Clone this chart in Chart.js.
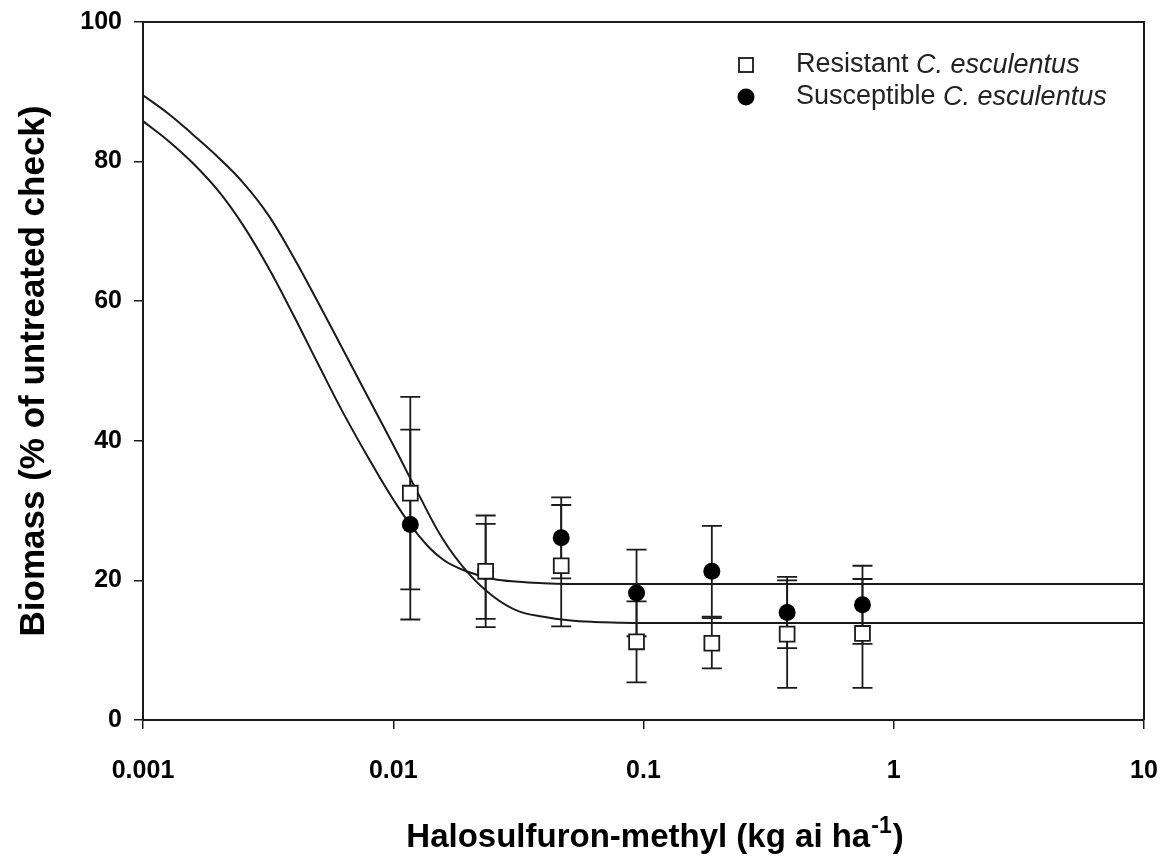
<!DOCTYPE html>
<html>
<head>
<meta charset="utf-8">
<script src="https://cdn.jsdelivr.net/npm/chart.js@4.4.1/dist/chart.umd.min.js"></script>
<style>
  body { margin: 0; background: #fff; }
  canvas { display: block; }
</style>
</head>
<body>
<canvas id="doseChart" width="1161" height="858"></canvas>
<script>
var doses = [0.0117, 0.0234, 0.0469, 0.0938, 0.1875, 0.375, 0.75];
var resistantMean = [32.5, 21.3, 22.1, 11.2, 11.0, 12.3, 12.4];
var resistantSE = [13.8, 8.0, 8.7, 5.8, 3.6, 7.7, 7.8];
var susceptibleMean = [28.0, 21.3, 26.1, 18.2, 21.3, 15.4, 16.5];
var susceptibleSE = [13.6, 6.8, 5.8, 6.2, 6.5, 5.1, 5.6];

// fitted curves, every tenth of a decade
var curveDose = [0.001, 0.00126, 0.00158, 0.002, 0.00251, 0.00316, 0.00398, 0.00501, 0.00631, 0.00794,
                 0.01, 0.0126, 0.0158, 0.02, 0.0251, 0.0316, 0.0398, 0.0501, 0.0631, 0.0794, 0.1, 1, 10];
var resistantFit = [89.5, 86.9, 83.9, 80.6, 77.0, 72.4, 66.4, 59.8, 53.0, 46.2,
                    39.4, 32.4, 25.9, 21.0, 17.7, 15.6, 14.8, 14.3, 14.05, 13.95, 13.9, 13.9, 13.9];
var susceptibleFit = [85.8, 83.0, 79.8, 75.8, 70.9, 64.9, 58.1, 51.0, 44.0, 37.6,
                      31.6, 26.5, 23.0, 21.2, 20.2, 19.8, 19.6, 19.5, 19.5, 19.5, 19.5, 19.5, 19.5];

var xTicks = [0.001, 0.01, 0.1, 1, 10];
var xTickLabels = ['0.001', '0.01', '0.1', '1', '10'];
var yTicks = [0, 20, 40, 60, 80, 100];

var FONT = '"Liberation Sans", Arial, sans-serif';
var INK = '#1a1a1a';

function toPoints(xs, ys) {
    var pts = [];
    for (var i = 0; i < xs.length; i++) {
        pts.push({ x: xs[i], y: ys[i] });
    }
    return pts;
}

// error bars behind the markers
var errorBars = {
    id: 'errorBars',
    beforeDatasetsDraw: function(chart) {
        var ctx = chart.ctx;
        var xs = chart.scales.x, ys = chart.scales.y;
        var sets = [[susceptibleMean, susceptibleSE], [resistantMean, resistantSE]];
        ctx.save();
        ctx.strokeStyle = INK;
        ctx.lineWidth = 1.8;
        sets.forEach(function(s) {
            for (var i = 0; i < doses.length; i++) {
                var px = xs.getPixelForValue(doses[i]);
                var top = ys.getPixelForValue(s[0][i] + s[1][i]);
                var bot = ys.getPixelForValue(s[0][i] - s[1][i]);
                ctx.beginPath();
                ctx.moveTo(px, top); ctx.lineTo(px, bot);
                ctx.moveTo(px - 10, top); ctx.lineTo(px + 10, top);
                ctx.moveTo(px - 10, bot); ctx.lineTo(px + 10, bot);
                ctx.stroke();
            }
        });
        ctx.restore();
    }
};

// top/right frame, x title with superscript, legend with italics
var decorations = {
    id: 'decorations',
    afterDraw: function(chart) {
        var ctx = chart.ctx;
        var a = chart.chartArea;
        ctx.save();
        ctx.strokeStyle = INK;
        ctx.lineWidth = 2;
        ctx.beginPath();
        ctx.moveTo(a.left, a.top);
        ctx.lineTo(a.right, a.top);
        ctx.lineTo(a.right, a.bottom);
        ctx.stroke();

        // x axis title
        ctx.fillStyle = '#000';
        ctx.textBaseline = 'alphabetic';
        var main = 'Halosulfuron-methyl (kg ai ha';
        var sup = '-1';
        var close = ')';
        ctx.font = 'bold 33px ' + FONT;
        var w1 = ctx.measureText(main).width;
        var w3 = ctx.measureText(close).width;
        ctx.font = 'bold 23px ' + FONT;
        var w2 = ctx.measureText(sup).width;
        var startX = 654 - (w1 + w2 + w3) / 2;
        var base = 847;
        ctx.font = 'bold 33px ' + FONT;
        ctx.textAlign = 'left';
        ctx.fillText(main, startX, base);
        ctx.font = 'bold 23px ' + FONT;
        ctx.fillText(sup, startX + w1 + 1, base - 14);
        ctx.font = 'bold 33px ' + FONT;
        ctx.fillText(close, startX + w1 + w2 + 2, base);

        // legend
        var rows = [
            { y: 65, name: 'Resistant ', style: 'rect' },
            { y: 97, name: 'Susceptible ', style: 'circle' }
        ];
        var textX = 796;
        rows.forEach(function(r) {
            if (r.style === 'rect') {
                ctx.fillStyle = '#fff';
                ctx.strokeStyle = INK;
                ctx.lineWidth = 1.8;
                ctx.fillRect(739, r.y - 7, 14, 14);
                ctx.strokeRect(739, r.y - 7, 14, 14);
            } else {
                ctx.fillStyle = '#000';
                ctx.beginPath();
                ctx.arc(746, r.y, 8.5, 0, Math.PI * 2);
                ctx.fill();
            }
            ctx.fillStyle = '#222';
            ctx.textBaseline = 'middle';
            ctx.font = '27px ' + FONT;
            ctx.fillText(r.name, textX, r.y);
            var w = ctx.measureText(r.name).width;
            ctx.font = 'italic 27px ' + FONT;
            ctx.fillText('C. esculentus', textX + w, r.y);
        });
        ctx.restore();
    }
};

var ctx = document.getElementById('doseChart').getContext('2d');

var chart = new Chart(ctx, {
    type: 'scatter',
    data: {
        datasets: [
            {
                label: 'Resistant C. esculentus',
                data: toPoints(doses, resistantMean),
                pointStyle: 'rect',
                pointRadius: 10.5,
                pointBackgroundColor: '#fff',
                pointBorderColor: INK,
                pointBorderWidth: 1.8,
                showLine: false
            },
            {
                label: 'Susceptible C. esculentus',
                data: toPoints(doses, susceptibleMean),
                pointStyle: 'circle',
                pointRadius: 8.5,
                pointBackgroundColor: '#000',
                pointBorderColor: '#000',
                pointBorderWidth: 0,
                showLine: false
            },
            {
                label: 'Resistant fit',
                data: toPoints(curveDose, resistantFit),
                showLine: true,
                pointRadius: 0,
                borderColor: INK,
                borderWidth: 2,
                tension: 0.4,
                fill: false
            },
            {
                label: 'Susceptible fit',
                data: toPoints(curveDose, susceptibleFit),
                showLine: true,
                pointRadius: 0,
                borderColor: INK,
                borderWidth: 2,
                tension: 0.4,
                fill: false
            }
        ]
    },
    options: {
        responsive: false,
        animation: false,
        devicePixelRatio: 1,
        layout: { padding: { top: 22, right: 17, left: 0, bottom: 0 } },
        plugins: {
            legend: { display: false },
            tooltip: { enabled: false }
        },
        scales: {
            x: {
                type: 'logarithmic',
                position: 'bottom',
                min: 0.001,
                max: 10,
                afterBuildTicks: function(axis) {
                    axis.ticks = xTicks.map(function(v) { return { value: v }; });
                },
                afterFit: function(axis) {
                    axis.height = 138;
                    axis.paddingLeft = 0;
                    axis.paddingRight = 0;
                },
                ticks: {
                    autoSkip: false,
                    maxRotation: 0,
                    color: '#000',
                    padding: 27,
                    font: { family: FONT, size: 25, weight: 'bold' },
                    callback: function(value) {
                        var i = xTicks.indexOf(value);
                        return i >= 0 ? xTickLabels[i] : '';
                    }
                },
                grid: { drawOnChartArea: false, drawTicks: true, tickLength: 9, color: INK, lineWidth: 1.5 },
                border: { display: true, color: INK, width: 2 }
            },
            y: {
                min: 0,
                max: 100,
                afterBuildTicks: function(axis) {
                    axis.ticks = yTicks.map(function(v) { return { value: v }; });
                },
                afterFit: function(axis) {
                    axis.width = 143;
                    axis.paddingTop = 0;
                    axis.paddingBottom = 0;
                },
                ticks: {
                    color: '#000',
                    padding: 12,
                    font: { family: FONT, size: 25, weight: 'bold' }
                },
                grid: { drawOnChartArea: false, drawTicks: true, tickLength: 9, color: INK, lineWidth: 1.5 },
                border: { display: true, color: INK, width: 2 },
                title: {
                    display: true,
                    text: 'Biomass (% of untreated check)',
                    color: '#000',
                    font: { family: FONT, size: 35, weight: 'bold' },
                    padding: { top: 13, bottom: 0 }
                }
            }
        }
    },
    plugins: [errorBars, decorations]
});
</script>
</body>
</html>
